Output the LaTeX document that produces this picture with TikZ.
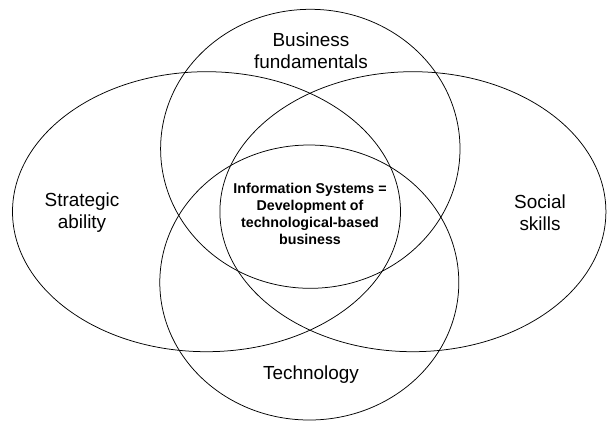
\documentclass[tikz,border=0pt]{standalone}
\usepackage{fontspec}
\setmainfont{Liberation Sans}
\usepackage{tikz}
\usetikzlibrary{positioning}

\begin{document}
\begin{tikzpicture}[x=1bp,y=-1bp,
    set/.style={draw,line width=0.75bp},
    tag/.style={align=center,inner sep=0pt,font=\fontsize{19}{22}\selectfont},
    core/.style={align=center,inner sep=0pt,font=\fontsize{14.3}{17}\selectfont\bfseries}]
        \useasboundingbox (0,0) rectangle (607,421);

        % the four sets
        \draw [set] (310.3,148.8) ellipse [x radius=149.7, y radius=139.5];
        \draw [set] (309.3,282.5) ellipse [x radius=149.5, y radius=137.5];
        \draw [set] (206.5,211.7) ellipse [x radius=194, y radius=140];
        \draw [set] (412.9,211.7) ellipse [x radius=193, y radius=140];

        \node [tag] (biz) at (311,51) {Business\\fundamentals};
        \node [tag] (strat) at (82,213) {Strategic\\ability};
        \node [tag] (social) at (540,213) {Social\\skills};
        \node [tag] (tech) at (311,375) {Technology};
        \node [core] (is) at (310,213.5) {Information Systems =\\Development of\\technological-based\\business};
    \end{tikzpicture}
\end{document}
